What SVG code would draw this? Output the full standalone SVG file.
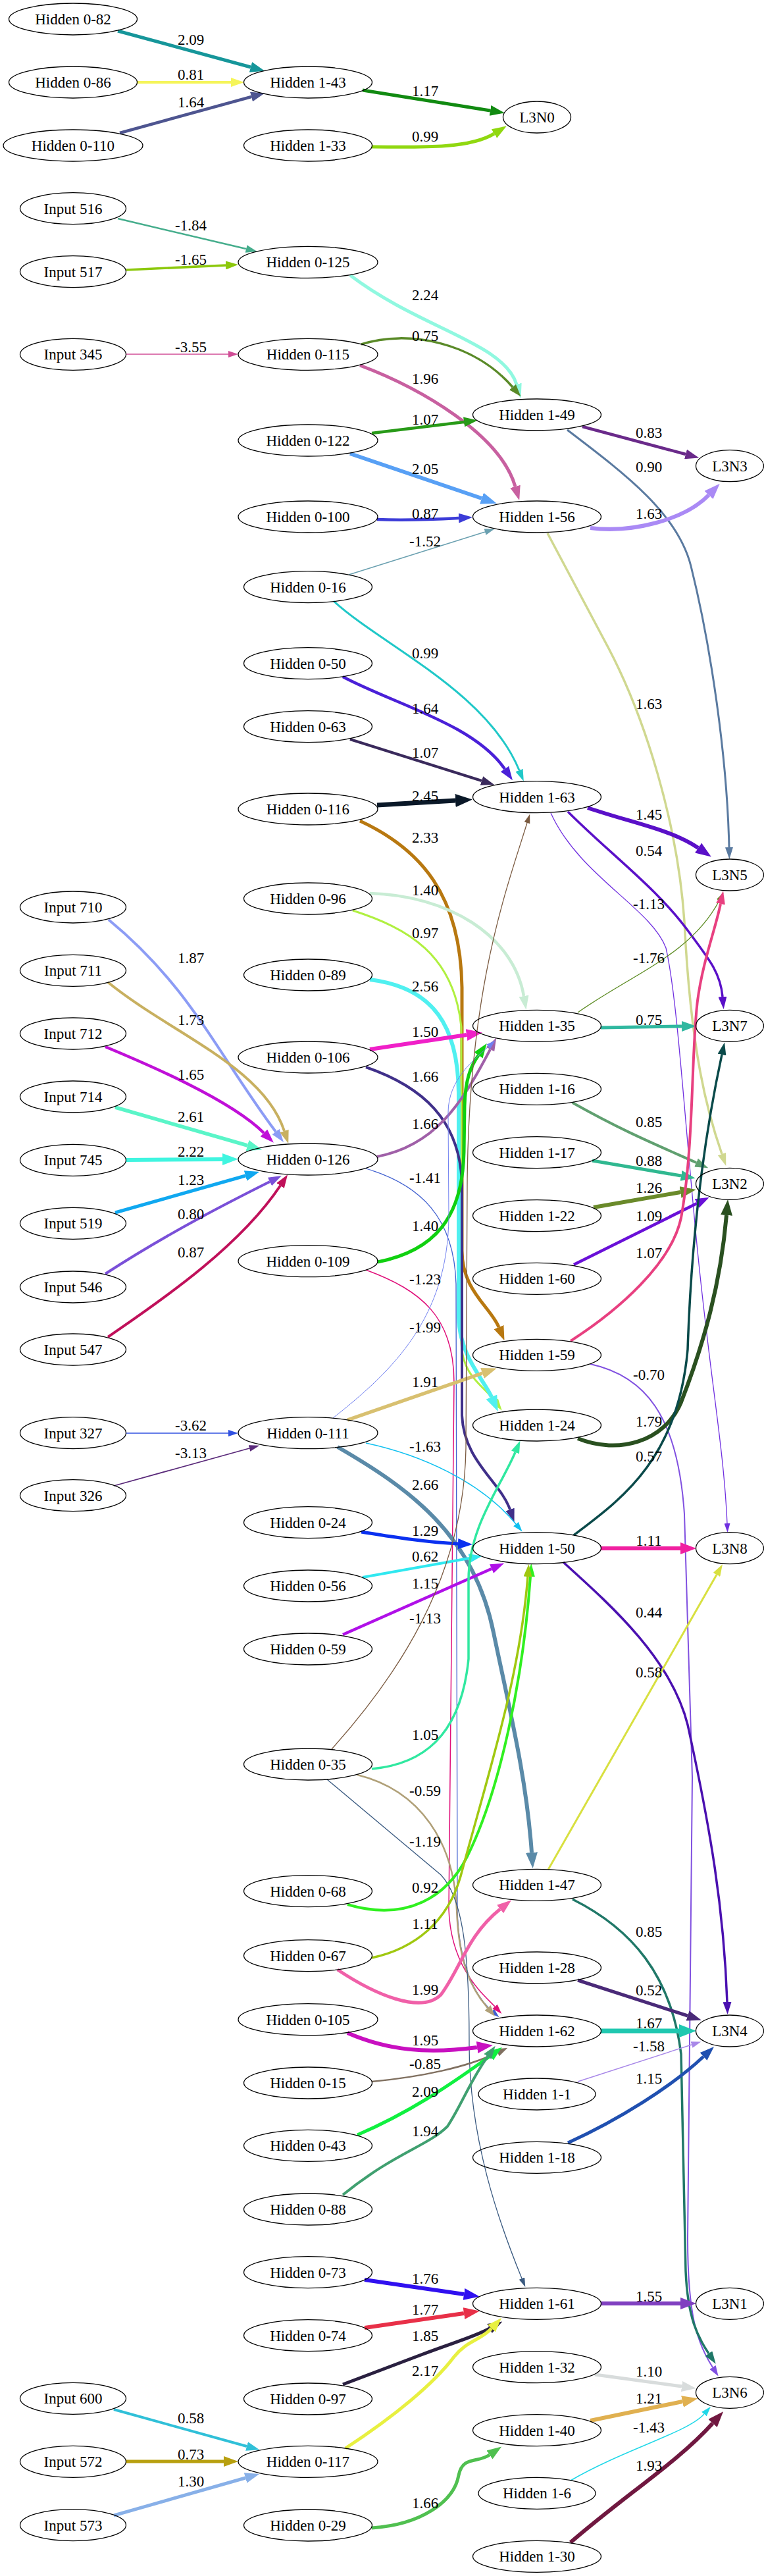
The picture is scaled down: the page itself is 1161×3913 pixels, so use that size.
<svg xmlns="http://www.w3.org/2000/svg" width="1161" height="3913" viewBox="0 0 1161 3913">
<style>
.n ellipse{fill:none;stroke:#000;stroke-width:1.3}
.n text,.lb text{font-family:"Liberation Serif","Times New Roman",serif;font-size:23px;text-anchor:middle;fill:#000}
#edges path{fill:none}
</style>
<defs>
<marker id="m1" viewBox="0 0 10 10" refX="0" refY="5" markerUnits="userSpaceOnUse" markerWidth="22" markerHeight="16" orient="auto" preserveAspectRatio="none"><path d="M0,0L10,5L0,10z" fill="#16969a"/></marker>
<marker id="m2" viewBox="0 0 10 10" refX="0" refY="5" markerUnits="userSpaceOnUse" markerWidth="20" markerHeight="14" orient="auto" preserveAspectRatio="none"><path d="M0,0L10,5L0,10z" fill="#f5f55a"/></marker>
<marker id="m3" viewBox="0 0 10 10" refX="0" refY="5" markerUnits="userSpaceOnUse" markerWidth="21" markerHeight="15" orient="auto" preserveAspectRatio="none"><path d="M0,0L10,5L0,10z" fill="#4e5590"/></marker>
<marker id="m4" viewBox="0 0 10 10" refX="0" refY="5" markerUnits="userSpaceOnUse" markerWidth="17" markerHeight="12" orient="auto" preserveAspectRatio="none"><path d="M0,0L10,5L0,10z" fill="#45ad8c"/></marker>
<marker id="m5" viewBox="0 0 10 10" refX="0" refY="5" markerUnits="userSpaceOnUse" markerWidth="19" markerHeight="13" orient="auto" preserveAspectRatio="none"><path d="M0,0L10,5L0,10z" fill="#8cc80c"/></marker>
<marker id="m6" viewBox="0 0 10 10" refX="0" refY="5" markerUnits="userSpaceOnUse" markerWidth="15" markerHeight="10" orient="auto" preserveAspectRatio="none"><path d="M0,0L10,5L0,10z" fill="#d04d96"/></marker>
<marker id="m7" viewBox="0 0 10 10" refX="0" refY="5" markerUnits="userSpaceOnUse" markerWidth="20" markerHeight="14" orient="auto" preserveAspectRatio="none"><path d="M0,0L10,5L0,10z" fill="#8c9cf5"/></marker>
<marker id="m8" viewBox="0 0 10 10" refX="0" refY="5" markerUnits="userSpaceOnUse" markerWidth="20" markerHeight="14" orient="auto" preserveAspectRatio="none"><path d="M0,0L10,5L0,10z" fill="#c8b060"/></marker>
<marker id="m9" viewBox="0 0 10 10" refX="0" refY="5" markerUnits="userSpaceOnUse" markerWidth="21" markerHeight="15" orient="auto" preserveAspectRatio="none"><path d="M0,0L10,5L0,10z" fill="#c010d8"/></marker>
<marker id="m10" viewBox="0 0 10 10" refX="0" refY="5" markerUnits="userSpaceOnUse" markerWidth="23" markerHeight="17" orient="auto" preserveAspectRatio="none"><path d="M0,0L10,5L0,10z" fill="#5af5c8"/></marker>
<marker id="m11" viewBox="0 0 10 10" refX="0" refY="5" markerUnits="userSpaceOnUse" markerWidth="24" markerHeight="18" orient="auto" preserveAspectRatio="none"><path d="M0,0L10,5L0,10z" fill="#40f5e0"/></marker>
<marker id="m12" viewBox="0 0 10 10" refX="0" refY="5" markerUnits="userSpaceOnUse" markerWidth="22" markerHeight="16" orient="auto" preserveAspectRatio="none"><path d="M0,0L10,5L0,10z" fill="#10a8f0"/></marker>
<marker id="m13" viewBox="0 0 10 10" refX="0" refY="5" markerUnits="userSpaceOnUse" markerWidth="20" markerHeight="14" orient="auto" preserveAspectRatio="none"><path d="M0,0L10,5L0,10z" fill="#7a50d8"/></marker>
<marker id="m14" viewBox="0 0 10 10" refX="0" refY="5" markerUnits="userSpaceOnUse" markerWidth="20" markerHeight="14" orient="auto" preserveAspectRatio="none"><path d="M0,0L10,5L0,10z" fill="#c0105a"/></marker>
<marker id="m15" viewBox="0 0 10 10" refX="0" refY="5" markerUnits="userSpaceOnUse" markerWidth="15" markerHeight="10" orient="auto" preserveAspectRatio="none"><path d="M0,0L10,5L0,10z" fill="#3050e0"/></marker>
<marker id="m16" viewBox="0 0 10 10" refX="0" refY="5" markerUnits="userSpaceOnUse" markerWidth="16" markerHeight="10" orient="auto" preserveAspectRatio="none"><path d="M0,0L10,5L0,10z" fill="#5a2a7a"/></marker>
<marker id="m17" viewBox="0 0 10 10" refX="0" refY="5" markerUnits="userSpaceOnUse" markerWidth="20" markerHeight="14" orient="auto" preserveAspectRatio="none"><path d="M0,0L10,5L0,10z" fill="#30c0d8"/></marker>
<marker id="m18" viewBox="0 0 10 10" refX="0" refY="5" markerUnits="userSpaceOnUse" markerWidth="22" markerHeight="16" orient="auto" preserveAspectRatio="none"><path d="M0,0L10,5L0,10z" fill="#b8a010"/></marker>
<marker id="m19" viewBox="0 0 10 10" refX="0" refY="5" markerUnits="userSpaceOnUse" markerWidth="22" markerHeight="16" orient="auto" preserveAspectRatio="none"><path d="M0,0L10,5L0,10z" fill="#88b0e8"/></marker>
<marker id="m20" viewBox="0 0 10 10" refX="0" refY="5" markerUnits="userSpaceOnUse" markerWidth="22" markerHeight="16" orient="auto" preserveAspectRatio="none"><path d="M0,0L10,5L0,10z" fill="#118a11"/></marker>
<marker id="m21" viewBox="0 0 10 10" refX="0" refY="5" markerUnits="userSpaceOnUse" markerWidth="22" markerHeight="16" orient="auto" preserveAspectRatio="none"><path d="M0,0L10,5L0,10z" fill="#90d810"/></marker>
<marker id="m22" viewBox="0 0 10 10" refX="0" refY="5" markerUnits="userSpaceOnUse" markerWidth="22" markerHeight="16" orient="auto" preserveAspectRatio="none"><path d="M0,0L10,5L0,10z" fill="#90f8e0"/></marker>
<marker id="m23" viewBox="0 0 10 10" refX="0" refY="5" markerUnits="userSpaceOnUse" markerWidth="19" markerHeight="13" orient="auto" preserveAspectRatio="none"><path d="M0,0L10,5L0,10z" fill="#5a8a28"/></marker>
<marker id="m24" viewBox="0 0 10 10" refX="0" refY="5" markerUnits="userSpaceOnUse" markerWidth="22" markerHeight="16" orient="auto" preserveAspectRatio="none"><path d="M0,0L10,5L0,10z" fill="#c860a0"/></marker>
<marker id="m25" viewBox="0 0 10 10" refX="0" refY="5" markerUnits="userSpaceOnUse" markerWidth="21" markerHeight="15" orient="auto" preserveAspectRatio="none"><path d="M0,0L10,5L0,10z" fill="#289a18"/></marker>
<marker id="m26" viewBox="0 0 10 10" refX="0" refY="5" markerUnits="userSpaceOnUse" markerWidth="24" markerHeight="18" orient="auto" preserveAspectRatio="none"><path d="M0,0L10,5L0,10z" fill="#58a0f5"/></marker>
<marker id="m27" viewBox="0 0 10 10" refX="0" refY="5" markerUnits="userSpaceOnUse" markerWidth="21" markerHeight="15" orient="auto" preserveAspectRatio="none"><path d="M0,0L10,5L0,10z" fill="#3c3cd8"/></marker>
<marker id="m28" viewBox="0 0 10 10" refX="0" refY="5" markerUnits="userSpaceOnUse" markerWidth="15" markerHeight="10" orient="auto" preserveAspectRatio="none"><path d="M0,0L10,5L0,10z" fill="#6aa0b0"/></marker>
<marker id="m29" viewBox="0 0 10 10" refX="0" refY="5" markerUnits="userSpaceOnUse" markerWidth="18" markerHeight="12" orient="auto" preserveAspectRatio="none"><path d="M0,0L10,5L0,10z" fill="#20c8c8"/></marker>
<marker id="m30" viewBox="0 0 10 10" refX="0" refY="5" markerUnits="userSpaceOnUse" markerWidth="21" markerHeight="15" orient="auto" preserveAspectRatio="none"><path d="M0,0L10,5L0,10z" fill="#4a20d8"/></marker>
<marker id="m31" viewBox="0 0 10 10" refX="0" refY="5" markerUnits="userSpaceOnUse" markerWidth="20" markerHeight="14" orient="auto" preserveAspectRatio="none"><path d="M0,0L10,5L0,10z" fill="#3a2a5c"/></marker>
<marker id="m32" viewBox="0 0 10 10" refX="0" refY="5" markerUnits="userSpaceOnUse" markerWidth="26" markerHeight="20" orient="auto" preserveAspectRatio="none"><path d="M0,0L10,5L0,10z" fill="#0a1828"/></marker>
<marker id="m33" viewBox="0 0 10 10" refX="0" refY="5" markerUnits="userSpaceOnUse" markerWidth="22" markerHeight="16" orient="auto" preserveAspectRatio="none"><path d="M0,0L10,5L0,10z" fill="#b87810"/></marker>
<marker id="m34" viewBox="0 0 10 10" refX="0" refY="5" markerUnits="userSpaceOnUse" markerWidth="21" markerHeight="15" orient="auto" preserveAspectRatio="none"><path d="M0,0L10,5L0,10z" fill="#c8ecd4"/></marker>
<marker id="m35" viewBox="0 0 10 10" refX="0" refY="5" markerUnits="userSpaceOnUse" markerWidth="18" markerHeight="12" orient="auto" preserveAspectRatio="none"><path d="M0,0L10,5L0,10z" fill="#b0f040"/></marker>
<marker id="m36" viewBox="0 0 10 10" refX="0" refY="5" markerUnits="userSpaceOnUse" markerWidth="24" markerHeight="18" orient="auto" preserveAspectRatio="none"><path d="M0,0L10,5L0,10z" fill="#50f0f0"/></marker>
<marker id="m37" viewBox="0 0 10 10" refX="0" refY="5" markerUnits="userSpaceOnUse" markerWidth="24" markerHeight="18" orient="auto" preserveAspectRatio="none"><path d="M0,0L10,5L0,10z" fill="#f020c8"/></marker>
<marker id="m38" viewBox="0 0 10 10" refX="0" refY="5" markerUnits="userSpaceOnUse" markerWidth="20" markerHeight="14" orient="auto" preserveAspectRatio="none"><path d="M0,0L10,5L0,10z" fill="#40308a"/></marker>
<marker id="m39" viewBox="0 0 10 10" refX="0" refY="5" markerUnits="userSpaceOnUse" markerWidth="20" markerHeight="14" orient="auto" preserveAspectRatio="none"><path d="M0,0L10,5L0,10z" fill="#a060a8"/></marker>
<marker id="m40" viewBox="0 0 10 10" refX="0" refY="5" markerUnits="userSpaceOnUse" markerWidth="14" markerHeight="9" orient="auto" preserveAspectRatio="none"><path d="M0,0L10,5L0,10z" fill="#4060d0"/></marker>
<marker id="m41" viewBox="0 0 10 10" refX="0" refY="5" markerUnits="userSpaceOnUse" markerWidth="22" markerHeight="16" orient="auto" preserveAspectRatio="none"><path d="M0,0L10,5L0,10z" fill="#10d010"/></marker>
<marker id="m42" viewBox="0 0 10 10" refX="0" refY="5" markerUnits="userSpaceOnUse" markerWidth="15" markerHeight="10" orient="auto" preserveAspectRatio="none"><path d="M0,0L10,5L0,10z" fill="#e0107a"/></marker>
<marker id="m43" viewBox="0 0 10 10" refX="0" refY="5" markerUnits="userSpaceOnUse" markerWidth="14" markerHeight="9" orient="auto" preserveAspectRatio="none"><path d="M0,0L10,5L0,10z" fill="#7080f0"/></marker>
<marker id="m44" viewBox="0 0 10 10" refX="0" refY="5" markerUnits="userSpaceOnUse" markerWidth="23" markerHeight="17" orient="auto" preserveAspectRatio="none"><path d="M0,0L10,5L0,10z" fill="#d8c070"/></marker>
<marker id="m45" viewBox="0 0 10 10" refX="0" refY="5" markerUnits="userSpaceOnUse" markerWidth="15" markerHeight="10" orient="auto" preserveAspectRatio="none"><path d="M0,0L10,5L0,10z" fill="#10c0f0"/></marker>
<marker id="m46" viewBox="0 0 10 10" refX="0" refY="5" markerUnits="userSpaceOnUse" markerWidth="24" markerHeight="18" orient="auto" preserveAspectRatio="none"><path d="M0,0L10,5L0,10z" fill="#5a8aa8"/></marker>
<marker id="m47" viewBox="0 0 10 10" refX="0" refY="5" markerUnits="userSpaceOnUse" markerWidth="22" markerHeight="16" orient="auto" preserveAspectRatio="none"><path d="M0,0L10,5L0,10z" fill="#0a30f0"/></marker>
<marker id="m48" viewBox="0 0 10 10" refX="0" refY="5" markerUnits="userSpaceOnUse" markerWidth="20" markerHeight="14" orient="auto" preserveAspectRatio="none"><path d="M0,0L10,5L0,10z" fill="#30e8f0"/></marker>
<marker id="m49" viewBox="0 0 10 10" refX="0" refY="5" markerUnits="userSpaceOnUse" markerWidth="21" markerHeight="15" orient="auto" preserveAspectRatio="none"><path d="M0,0L10,5L0,10z" fill="#b010e8"/></marker>
<marker id="m50" viewBox="0 0 10 10" refX="0" refY="5" markerUnits="userSpaceOnUse" markerWidth="14" markerHeight="9" orient="auto" preserveAspectRatio="none"><path d="M0,0L10,5L0,10z" fill="#7a5a40"/></marker>
<marker id="m51" viewBox="0 0 10 10" refX="0" refY="5" markerUnits="userSpaceOnUse" markerWidth="19" markerHeight="13" orient="auto" preserveAspectRatio="none"><path d="M0,0L10,5L0,10z" fill="#30e8a0"/></marker>
<marker id="m52" viewBox="0 0 10 10" refX="0" refY="5" markerUnits="userSpaceOnUse" markerWidth="17" markerHeight="12" orient="auto" preserveAspectRatio="none"><path d="M0,0L10,5L0,10z" fill="#b0a078"/></marker>
<marker id="m53" viewBox="0 0 10 10" refX="0" refY="5" markerUnits="userSpaceOnUse" markerWidth="14" markerHeight="9" orient="auto" preserveAspectRatio="none"><path d="M0,0L10,5L0,10z" fill="#3a5a80"/></marker>
<marker id="m54" viewBox="0 0 10 10" refX="0" refY="5" markerUnits="userSpaceOnUse" markerWidth="20" markerHeight="14" orient="auto" preserveAspectRatio="none"><path d="M0,0L10,5L0,10z" fill="#30f020"/></marker>
<marker id="m55" viewBox="0 0 10 10" refX="0" refY="5" markerUnits="userSpaceOnUse" markerWidth="19" markerHeight="13" orient="auto" preserveAspectRatio="none"><path d="M0,0L10,5L0,10z" fill="#a0c810"/></marker>
<marker id="m56" viewBox="0 0 10 10" refX="0" refY="5" markerUnits="userSpaceOnUse" markerWidth="22" markerHeight="16" orient="auto" preserveAspectRatio="none"><path d="M0,0L10,5L0,10z" fill="#f060a8"/></marker>
<marker id="m57" viewBox="0 0 10 10" refX="0" refY="5" markerUnits="userSpaceOnUse" markerWidth="24" markerHeight="18" orient="auto" preserveAspectRatio="none"><path d="M0,0L10,5L0,10z" fill="#c810c0"/></marker>
<marker id="m58" viewBox="0 0 10 10" refX="0" refY="5" markerUnits="userSpaceOnUse" markerWidth="17" markerHeight="12" orient="auto" preserveAspectRatio="none"><path d="M0,0L10,5L0,10z" fill="#807060"/></marker>
<marker id="m59" viewBox="0 0 10 10" refX="0" refY="5" markerUnits="userSpaceOnUse" markerWidth="22" markerHeight="16" orient="auto" preserveAspectRatio="none"><path d="M0,0L10,5L0,10z" fill="#10f040"/></marker>
<marker id="m60" viewBox="0 0 10 10" refX="0" refY="5" markerUnits="userSpaceOnUse" markerWidth="20" markerHeight="14" orient="auto" preserveAspectRatio="none"><path d="M0,0L10,5L0,10z" fill="#40a070"/></marker>
<marker id="m61" viewBox="0 0 10 10" refX="0" refY="5" markerUnits="userSpaceOnUse" markerWidth="24" markerHeight="18" orient="auto" preserveAspectRatio="none"><path d="M0,0L10,5L0,10z" fill="#3010f0"/></marker>
<marker id="m62" viewBox="0 0 10 10" refX="0" refY="5" markerUnits="userSpaceOnUse" markerWidth="24" markerHeight="18" orient="auto" preserveAspectRatio="none"><path d="M0,0L10,5L0,10z" fill="#e83048"/></marker>
<marker id="m63" viewBox="0 0 10 10" refX="0" refY="5" markerUnits="userSpaceOnUse" markerWidth="22" markerHeight="16" orient="auto" preserveAspectRatio="none"><path d="M0,0L10,5L0,10z" fill="#2a2040"/></marker>
<marker id="m64" viewBox="0 0 10 10" refX="0" refY="5" markerUnits="userSpaceOnUse" markerWidth="22" markerHeight="16" orient="auto" preserveAspectRatio="none"><path d="M0,0L10,5L0,10z" fill="#e8f040"/></marker>
<marker id="m65" viewBox="0 0 10 10" refX="0" refY="5" markerUnits="userSpaceOnUse" markerWidth="22" markerHeight="16" orient="auto" preserveAspectRatio="none"><path d="M0,0L10,5L0,10z" fill="#50c050"/></marker>
<marker id="m66" viewBox="0 0 10 10" refX="0" refY="5" markerUnits="userSpaceOnUse" markerWidth="21" markerHeight="15" orient="auto" preserveAspectRatio="none"><path d="M0,0L10,5L0,10z" fill="#6a2a8a"/></marker>
<marker id="m67" viewBox="0 0 10 10" refX="0" refY="5" markerUnits="userSpaceOnUse" markerWidth="18" markerHeight="12" orient="auto" preserveAspectRatio="none"><path d="M0,0L10,5L0,10z" fill="#5a7aa0"/></marker>
<marker id="m68" viewBox="0 0 10 10" refX="0" refY="5" markerUnits="userSpaceOnUse" markerWidth="24" markerHeight="18" orient="auto" preserveAspectRatio="none"><path d="M0,0L10,5L0,10z" fill="#aa8af5"/></marker>
<marker id="m69" viewBox="0 0 10 10" refX="0" refY="5" markerUnits="userSpaceOnUse" markerWidth="19" markerHeight="13" orient="auto" preserveAspectRatio="none"><path d="M0,0L10,5L0,10z" fill="#d0d890"/></marker>
<marker id="m70" viewBox="0 0 10 10" refX="0" refY="5" markerUnits="userSpaceOnUse" markerWidth="24" markerHeight="18" orient="auto" preserveAspectRatio="none"><path d="M0,0L10,5L0,10z" fill="#5a10c8"/></marker>
<marker id="m71" viewBox="0 0 10 10" refX="0" refY="5" markerUnits="userSpaceOnUse" markerWidth="19" markerHeight="13" orient="auto" preserveAspectRatio="none"><path d="M0,0L10,5L0,10z" fill="#5a10c8"/></marker>
<marker id="m72" viewBox="0 0 10 10" refX="0" refY="5" markerUnits="userSpaceOnUse" markerWidth="14" markerHeight="9" orient="auto" preserveAspectRatio="none"><path d="M0,0L10,5L0,10z" fill="#7030e0"/></marker>
<marker id="m73" viewBox="0 0 10 10" refX="0" refY="5" markerUnits="userSpaceOnUse" markerWidth="14" markerHeight="9" orient="auto" preserveAspectRatio="none"><path d="M0,0L10,5L0,10z" fill="#5a8a20"/></marker>
<marker id="m74" viewBox="0 0 10 10" refX="0" refY="5" markerUnits="userSpaceOnUse" markerWidth="22" markerHeight="16" orient="auto" preserveAspectRatio="none"><path d="M0,0L10,5L0,10z" fill="#30b8a0"/></marker>
<marker id="m75" viewBox="0 0 10 10" refX="0" refY="5" markerUnits="userSpaceOnUse" markerWidth="20" markerHeight="14" orient="auto" preserveAspectRatio="none"><path d="M0,0L10,5L0,10z" fill="#60a070"/></marker>
<marker id="m76" viewBox="0 0 10 10" refX="0" refY="5" markerUnits="userSpaceOnUse" markerWidth="22" markerHeight="16" orient="auto" preserveAspectRatio="none"><path d="M0,0L10,5L0,10z" fill="#30b890"/></marker>
<marker id="m77" viewBox="0 0 10 10" refX="0" refY="5" markerUnits="userSpaceOnUse" markerWidth="24" markerHeight="18" orient="auto" preserveAspectRatio="none"><path d="M0,0L10,5L0,10z" fill="#6a8a2a"/></marker>
<marker id="m78" viewBox="0 0 10 10" refX="0" refY="5" markerUnits="userSpaceOnUse" markerWidth="21" markerHeight="15" orient="auto" preserveAspectRatio="none"><path d="M0,0L10,5L0,10z" fill="#6a10d8"/></marker>
<marker id="m79" viewBox="0 0 10 10" refX="0" refY="5" markerUnits="userSpaceOnUse" markerWidth="20" markerHeight="14" orient="auto" preserveAspectRatio="none"><path d="M0,0L10,5L0,10z" fill="#e84080"/></marker>
<marker id="m80" viewBox="0 0 10 10" refX="0" refY="5" markerUnits="userSpaceOnUse" markerWidth="16" markerHeight="11" orient="auto" preserveAspectRatio="none"><path d="M0,0L10,5L0,10z" fill="#8050e0"/></marker>
<marker id="m81" viewBox="0 0 10 10" refX="0" refY="5" markerUnits="userSpaceOnUse" markerWidth="24" markerHeight="18" orient="auto" preserveAspectRatio="none"><path d="M0,0L10,5L0,10z" fill="#2a5020"/></marker>
<marker id="m82" viewBox="0 0 10 10" refX="0" refY="5" markerUnits="userSpaceOnUse" markerWidth="19" markerHeight="13" orient="auto" preserveAspectRatio="none"><path d="M0,0L10,5L0,10z" fill="#0a4a4a"/></marker>
<marker id="m83" viewBox="0 0 10 10" refX="0" refY="5" markerUnits="userSpaceOnUse" markerWidth="24" markerHeight="18" orient="auto" preserveAspectRatio="none"><path d="M0,0L10,5L0,10z" fill="#f020a0"/></marker>
<marker id="m84" viewBox="0 0 10 10" refX="0" refY="5" markerUnits="userSpaceOnUse" markerWidth="19" markerHeight="13" orient="auto" preserveAspectRatio="none"><path d="M0,0L10,5L0,10z" fill="#4a10b0"/></marker>
<marker id="m85" viewBox="0 0 10 10" refX="0" refY="5" markerUnits="userSpaceOnUse" markerWidth="18" markerHeight="12" orient="auto" preserveAspectRatio="none"><path d="M0,0L10,5L0,10z" fill="#d8e040"/></marker>
<marker id="m86" viewBox="0 0 10 10" refX="0" refY="5" markerUnits="userSpaceOnUse" markerWidth="19" markerHeight="13" orient="auto" preserveAspectRatio="none"><path d="M0,0L10,5L0,10z" fill="#207868"/></marker>
<marker id="m87" viewBox="0 0 10 10" refX="0" refY="5" markerUnits="userSpaceOnUse" markerWidth="22" markerHeight="16" orient="auto" preserveAspectRatio="none"><path d="M0,0L10,5L0,10z" fill="#4a2a78"/></marker>
<marker id="m88" viewBox="0 0 10 10" refX="0" refY="5" markerUnits="userSpaceOnUse" markerWidth="26" markerHeight="20" orient="auto" preserveAspectRatio="none"><path d="M0,0L10,5L0,10z" fill="#20c8b0"/></marker>
<marker id="m89" viewBox="0 0 10 10" refX="0" refY="5" markerUnits="userSpaceOnUse" markerWidth="15" markerHeight="10" orient="auto" preserveAspectRatio="none"><path d="M0,0L10,5L0,10z" fill="#a888e8"/></marker>
<marker id="m90" viewBox="0 0 10 10" refX="0" refY="5" markerUnits="userSpaceOnUse" markerWidth="22" markerHeight="16" orient="auto" preserveAspectRatio="none"><path d="M0,0L10,5L0,10z" fill="#2050b0"/></marker>
<marker id="m91" viewBox="0 0 10 10" refX="0" refY="5" markerUnits="userSpaceOnUse" markerWidth="24" markerHeight="18" orient="auto" preserveAspectRatio="none"><path d="M0,0L10,5L0,10z" fill="#8040c0"/></marker>
<marker id="m92" viewBox="0 0 10 10" refX="0" refY="5" markerUnits="userSpaceOnUse" markerWidth="22" markerHeight="16" orient="auto" preserveAspectRatio="none"><path d="M0,0L10,5L0,10z" fill="#d8dcdc"/></marker>
<marker id="m93" viewBox="0 0 10 10" refX="0" refY="5" markerUnits="userSpaceOnUse" markerWidth="24" markerHeight="18" orient="auto" preserveAspectRatio="none"><path d="M0,0L10,5L0,10z" fill="#e0b050"/></marker>
<marker id="m94" viewBox="0 0 10 10" refX="0" refY="5" markerUnits="userSpaceOnUse" markerWidth="15" markerHeight="10" orient="auto" preserveAspectRatio="none"><path d="M0,0L10,5L0,10z" fill="#20d8e8"/></marker>
<marker id="m95" viewBox="0 0 10 10" refX="0" refY="5" markerUnits="userSpaceOnUse" markerWidth="24" markerHeight="18" orient="auto" preserveAspectRatio="none"><path d="M0,0L10,5L0,10z" fill="#701840"/></marker>
</defs>
<rect width="1161" height="3913" fill="#fff"/>
<g id="edges">
<path d="M179,47 L381,102" stroke="#16969a" stroke-width="5" marker-end="url(#m1)"/>
<path d="M208,125 L351,125" stroke="#f5f55a" stroke-width="4" marker-end="url(#m2)"/>
<path d="M182,202 L382,147" stroke="#4e5590" stroke-width="4.5" marker-end="url(#m3)"/>
<path d="M179,332 L374,378" stroke="#45ad8c" stroke-width="2.5" marker-end="url(#m4)"/>
<path d="M192,410 L343,403" stroke="#8cc80c" stroke-width="3.5" marker-end="url(#m5)"/>
<path d="M191,538 L347,538" stroke="#d04d96" stroke-width="1.4" marker-end="url(#m6)"/>
<path d="M165,1397 C290,1500 330,1600 419,1719" stroke="#8c9cf5" stroke-width="4" marker-end="url(#m7)"/>
<path d="M164,1492 C260,1570 400,1620 432,1718" stroke="#c8b060" stroke-width="4" marker-end="url(#m8)"/>
<path d="M160,1590 C220,1615 350,1670 401,1721" stroke="#c010d8" stroke-width="4.5" marker-end="url(#m9)"/>
<path d="M175,1682 L376,1740" stroke="#5af5c8" stroke-width="5.5" marker-end="url(#m10)"/>
<path d="M191,1762 L338,1761" stroke="#40f5e0" stroke-width="6" marker-end="url(#m11)"/>
<path d="M175,1842 L373,1786" stroke="#10a8f0" stroke-width="5" marker-end="url(#m12)"/>
<path d="M160,1935 C260,1870 360,1820 410,1795" stroke="#7a50d8" stroke-width="4" marker-end="url(#m13)"/>
<path d="M164,2031 C230,1985 360,1900 426,1801" stroke="#c0105a" stroke-width="4" marker-end="url(#m14)"/>
<path d="M191,2177 L347,2177" stroke="#3050e0" stroke-width="1.4" marker-end="url(#m15)"/>
<path d="M173,2257 L379,2200" stroke="#5a2a7a" stroke-width="1.8" marker-end="url(#m16)"/>
<path d="M173,3660 L375,3716" stroke="#30c0d8" stroke-width="4" marker-end="url(#m17)"/>
<path d="M191,3739 L340,3739" stroke="#b8a010" stroke-width="5" marker-end="url(#m18)"/>
<path d="M173,3821 L373,3764" stroke="#88b0e8" stroke-width="5" marker-end="url(#m19)"/>
<path d="M551,137 L745,168" stroke="#118a11" stroke-width="5" marker-end="url(#m20)"/>
<path d="M565,223 C650,224 715,225 751,203" stroke="#90d810" stroke-width="5" marker-end="url(#m21)"/>
<path d="M532,418 C640,500 765,520 785,584" stroke="#90f8e0" stroke-width="5" marker-end="url(#m22)"/>
<path d="M549,523 C620,500 720,520 779,588" stroke="#5a8a28" stroke-width="3.5" marker-end="url(#m23)"/>
<path d="M547,555 C640,590 760,660 783,739" stroke="#c860a0" stroke-width="5" marker-end="url(#m24)"/>
<path d="M565,658 L705,641" stroke="#289a18" stroke-width="4.5" marker-end="url(#m25)"/>
<path d="M532,689 L732,757" stroke="#58a0f5" stroke-width="6" marker-end="url(#m26)"/>
<path d="M573,789 C620,791 660,789 697,787" stroke="#3c3cd8" stroke-width="4.5" marker-end="url(#m27)"/>
<path d="M530,873 L737,808" stroke="#6aa0b0" stroke-width="1.5" marker-end="url(#m28)"/>
<path d="M507,913 C580,980 740,1050 789,1170" stroke="#20c8c8" stroke-width="3" marker-end="url(#m29)"/>
<path d="M521,1028 C600,1070 720,1100 767,1168" stroke="#4a20d8" stroke-width="4.5" marker-end="url(#m30)"/>
<path d="M532,1123 L732,1186" stroke="#3a2a5c" stroke-width="4" marker-end="url(#m31)"/>
<path d="M573,1223 L692,1216" stroke="#0a1828" stroke-width="7" marker-end="url(#m32)"/>
<path d="M547,1247 C640,1290 700,1360 702,1500 L702,1900 C702,1960 745,1985 758,2016" stroke="#b87810" stroke-width="5" marker-end="url(#m33)"/>
<path d="M562,1357 C680,1360 780,1420 796,1513" stroke="#c8ecd4" stroke-width="4.5" marker-end="url(#m34)"/>
<path d="M536,1383 C620,1410 690,1450 701,1560 L701,2040 C702,2090 735,2105 752,2128" stroke="#b0f040" stroke-width="3" marker-end="url(#m35)"/>
<path d="M562,1488 C660,1500 696,1560 697,1660 L697,2000 C698,2060 735,2095 747,2122" stroke="#50f0f0" stroke-width="6" marker-end="url(#m36)"/>
<path d="M562,1594 L709,1572" stroke="#f020c8" stroke-width="6" marker-end="url(#m37)"/>
<path d="M556,1621 C640,1650 700,1700 702,1800 L702,2150 C705,2220 760,2250 775,2293" stroke="#40308a" stroke-width="4" marker-end="url(#m38)"/>
<path d="M573,1757 C660,1740 700,1680 745,1594" stroke="#a060a8" stroke-width="4" marker-end="url(#m39)"/>
<path d="M556,1775 C640,1800 690,1850 693,1950 L695,2900 C697,2990 725,3035 748,3055" stroke="#4060d0" stroke-width="1.3" marker-end="url(#m40)"/>
<path d="M574,1917 C660,1900 703,1850 705,1750 L706,1680 C707,1640 715,1620 727,1603" stroke="#10d010" stroke-width="5" marker-end="url(#m41)"/>
<path d="M556,1929 C640,1960 690,2000 690,2100 L682,2900 C685,2990 735,3030 752,3048" stroke="#e0107a" stroke-width="1.5" marker-end="url(#m42)"/>
<path d="M506,2154 C600,2080 680,2000 682,1850 L681,1690 C681,1640 720,1610 742,1590" stroke="#7080f0" stroke-width="1" marker-end="url(#m43)"/>
<path d="M528,2157 L733,2086" stroke="#d8c070" stroke-width="5.5" marker-end="url(#m44)"/>
<path d="M556,2192 C640,2210 730,2250 784,2315" stroke="#10c0f0" stroke-width="1.5" marker-end="url(#m45)"/>
<path d="M513,2198 C620,2260 720,2330 750,2480 C775,2600 800,2700 808,2814" stroke="#5a8aa8" stroke-width="6" marker-end="url(#m46)"/>
<path d="M549,2327 C600,2335 650,2343 696,2345" stroke="#0a30f0" stroke-width="5" marker-end="url(#m47)"/>
<path d="M551,2396 L713,2367" stroke="#30e8f0" stroke-width="4" marker-end="url(#m48)"/>
<path d="M521,2483 L747,2383" stroke="#b010e8" stroke-width="4.5" marker-end="url(#m49)"/>
<path d="M504,2657 C600,2550 705,2400 708,2200 L710,1800 C712,1500 770,1350 801,1250" stroke="#7a5a40" stroke-width="1.3" marker-end="url(#m50)"/>
<path d="M565,2687 C640,2680 700,2640 712,2520 L712,2400 C712,2320 760,2260 783,2206" stroke="#30e8a0" stroke-width="3.5" marker-end="url(#m51)"/>
<path d="M543,2696 C640,2720 690,2800 694,2900 C697,2980 715,3020 741,3050" stroke="#b0a078" stroke-width="2.5" marker-end="url(#m52)"/>
<path d="M497,2703 L670,2848 C700,2880 713,2950 713,3100 C712,3250 760,3380 793,3461" stroke="#3a5a80" stroke-width="1.3" marker-end="url(#m53)"/>
<path d="M528,2893 C620,2920 680,2880 710,2820 C760,2720 795,2550 806,2395" stroke="#30f020" stroke-width="4" marker-end="url(#m54)"/>
<path d="M565,2974 C630,2960 680,2920 700,2850 C740,2700 790,2550 802,2395" stroke="#a0c810" stroke-width="3.5" marker-end="url(#m55)"/>
<path d="M513,2992 C570,3030 640,3060 670,3030 C700,2990 710,2940 760,2900" stroke="#f060a8" stroke-width="5" marker-end="url(#m56)"/>
<path d="M528,3088 C590,3115 650,3120 725,3110" stroke="#c810c0" stroke-width="6" marker-end="url(#m57)"/>
<path d="M565,3162 C640,3155 710,3140 756,3118" stroke="#807060" stroke-width="2.5" marker-end="url(#m58)"/>
<path d="M543,3243 C620,3210 680,3170 745,3123" stroke="#10f040" stroke-width="5" marker-end="url(#m59)"/>
<path d="M521,3334 C600,3270 650,3260 680,3230 C700,3200 715,3160 741,3124" stroke="#40a070" stroke-width="4" marker-end="url(#m60)"/>
<path d="M554,3463 L705,3485" stroke="#3010f0" stroke-width="6" marker-end="url(#m61)"/>
<path d="M554,3536 L705,3514" stroke="#e83048" stroke-width="6" marker-end="url(#m62)"/>
<path d="M521,3622 L640,3577 C690,3558 720,3550 744,3537" stroke="#2a2040" stroke-width="5" marker-end="url(#m63)"/>
<path d="M525,3719 C600,3670 660,3620 690,3580 C710,3555 730,3555 747,3537" stroke="#e8f040" stroke-width="5" marker-end="url(#m64)"/>
<path d="M565,3840 C640,3835 690,3800 697,3760 C703,3730 725,3742 744,3729" stroke="#50c050" stroke-width="5" marker-end="url(#m65)"/>
<path d="M885,648 L1042,690" stroke="#6a2a8a" stroke-width="4.5" marker-end="url(#m66)"/>
<path d="M862,653 C950,720 1030,780 1050,860 C1080,980 1105,1150 1108,1287" stroke="#5a7aa0" stroke-width="3" marker-end="url(#m67)"/>
<path d="M897,802 C960,810 1040,790 1077,752" stroke="#aa8af5" stroke-width="6" marker-end="url(#m68)"/>
<path d="M832,810 L925,985 C980,1090 1030,1250 1040,1400 C1050,1600 1075,1690 1097,1753" stroke="#d0d890" stroke-width="3.5" marker-end="url(#m69)"/>
<path d="M893,1227 C960,1250 1020,1260 1061,1288" stroke="#5a10c8" stroke-width="6" marker-end="url(#m70)"/>
<path d="M863,1233 C930,1300 1000,1350 1050,1420 C1080,1460 1095,1480 1098,1514" stroke="#5a10c8" stroke-width="3.5" marker-end="url(#m71)"/>
<path d="M837,1235 C880,1330 990,1380 1012,1440 C1030,1520 1040,1700 1060,1900 C1080,2100 1100,2200 1105,2314" stroke="#7030e0" stroke-width="1.3" marker-end="url(#m72)"/>
<path d="M878,1538 C960,1480 1050,1450 1093,1368" stroke="#5a8a20" stroke-width="1.3" marker-end="url(#m73)"/>
<path d="M913,1561 L1036,1559" stroke="#30b8a0" stroke-width="5" marker-end="url(#m74)"/>
<path d="M870,1675 C950,1720 1000,1740 1058,1766" stroke="#60a070" stroke-width="4" marker-end="url(#m75)"/>
<path d="M900,1763 L1035,1786" stroke="#30b890" stroke-width="5" marker-end="url(#m76)"/>
<path d="M902,1834 L1034,1811" stroke="#6a8a2a" stroke-width="6" marker-end="url(#m77)"/>
<path d="M872,1921 L1059,1828" stroke="#6a10d8" stroke-width="4.5" marker-end="url(#m78)"/>
<path d="M867,2037 C940,1990 1020,1920 1035,1850 C1055,1740 1050,1600 1060,1520 C1068,1460 1087,1412 1095,1373" stroke="#e84080" stroke-width="4" marker-end="url(#m79)"/>
<path d="M897,2072 C980,2090 1030,2150 1040,2300 L1052,2700 L1045,3400 C1045,3520 1060,3560 1083,3596" stroke="#8050e0" stroke-width="2" marker-end="url(#m80)"/>
<path d="M878,2185 C940,2210 1010,2190 1035,2130 C1070,2040 1095,1950 1104,1846" stroke="#2a5020" stroke-width="6" marker-end="url(#m81)"/>
<path d="M872,2332 C940,2280 1030,2220 1045,2050 C1050,1900 1065,1750 1097,1602" stroke="#0a4a4a" stroke-width="3.5" marker-end="url(#m82)"/>
<path d="M913,2352 L1034,2352" stroke="#f020a0" stroke-width="6" marker-end="url(#m83)"/>
<path d="M856,2373 C930,2440 1020,2520 1045,2620 C1080,2780 1100,2900 1105,3041" stroke="#4a10b0" stroke-width="3.5" marker-end="url(#m84)"/>
<path d="M833,2840 L1089,2392" stroke="#d8e040" stroke-width="3" marker-end="url(#m85)"/>
<path d="M870,2885 C960,2930 1020,3000 1035,3120 L1042,3450 C1045,3520 1060,3550 1077,3575" stroke="#207868" stroke-width="3.5" marker-end="url(#m86)"/>
<path d="M878,3008 L1045,3062" stroke="#4a2a78" stroke-width="5" marker-end="url(#m87)"/>
<path d="M913,3085 L1032,3085" stroke="#20c8b0" stroke-width="7" marker-end="url(#m88)"/>
<path d="M878,3162 L1051,3106" stroke="#a888e8" stroke-width="1.5" marker-end="url(#m89)"/>
<path d="M863,3255 C940,3220 1020,3170 1069,3124" stroke="#2050b0" stroke-width="5" marker-end="url(#m90)"/>
<path d="M913,3499 L1034,3499" stroke="#8040c0" stroke-width="6" marker-end="url(#m91)"/>
<path d="M904,3607 L1036,3625" stroke="#d8dcdc" stroke-width="5" marker-end="url(#m92)"/>
<path d="M897,3677 L1037,3648" stroke="#e0b050" stroke-width="6" marker-end="url(#m93)"/>
<path d="M867,3768 C950,3720 1045,3695 1070,3667" stroke="#20d8e8" stroke-width="1.5" marker-end="url(#m94)"/>
<path d="M867,3862 C950,3790 1030,3740 1083,3681" stroke="#701840" stroke-width="6" marker-end="url(#m95)"/>
</g>
<g class="lb" id="edge-labels">
<text x="290" y="68">2.09</text><text x="290" y="121">0.81</text><text x="290" y="163">1.64</text>
<text x="646" y="146">1.17</text><text x="646" y="215">0.99</text>
<text x="290" y="350">-1.84</text><text x="290" y="402">-1.65</text><text x="290" y="535">-3.55</text>
<text x="646" y="456">2.24</text><text x="646" y="518">0.75</text><text x="646" y="583">1.96</text><text x="646" y="645">1.07</text>
<text x="646" y="720">2.05</text><text x="646" y="788">0.87</text><text x="646" y="830">-1.52</text><text x="646" y="1000">0.99</text>
<text x="646" y="1084">1.64</text><text x="646" y="1151">1.07</text><text x="646" y="1217">2.45</text><text x="646" y="1280">2.33</text>
<text x="646" y="1360">1.40</text><text x="646" y="1425">0.97</text><text x="646" y="1506">2.56</text><text x="646" y="1575">1.50</text>
<text x="646" y="1643">1.66</text><text x="646" y="1715">1.66</text><text x="646" y="1797">-1.41</text><text x="646" y="1870">1.40</text>
<text x="646" y="1951">-1.23</text><text x="646" y="2024">-1.99</text><text x="646" y="2107">1.91</text><text x="646" y="2205">-1.63</text>
<text x="646" y="2263">2.66</text><text x="646" y="2333">1.29</text><text x="646" y="2372">0.62</text><text x="646" y="2413">1.15</text>
<text x="646" y="2466">-1.13</text><text x="646" y="2643">1.05</text><text x="646" y="2728">-0.59</text><text x="646" y="2805">-1.19</text>
<text x="646" y="2875">0.92</text><text x="646" y="2930">1.11</text><text x="646" y="3030">1.99</text><text x="646" y="3107">1.95</text>
<text x="646" y="3143">-0.85</text><text x="646" y="3185">2.09</text><text x="646" y="3245">1.94</text><text x="646" y="3469">1.76</text>
<text x="646" y="3516">1.77</text><text x="646" y="3556">1.85</text><text x="646" y="3609">2.17</text><text x="646" y="3810">1.66</text>
<text x="290" y="1463">1.87</text><text x="290" y="1557">1.73</text><text x="290" y="1640">1.65</text><text x="290" y="1704">2.61</text>
<text x="290" y="1757">2.22</text><text x="290" y="1800">1.23</text><text x="290" y="1852">0.80</text><text x="290" y="1910">0.87</text>
<text x="290" y="2173">-3.62</text><text x="290" y="2215">-3.13</text><text x="290" y="3681">0.58</text><text x="290" y="3736">0.73</text><text x="290" y="3777">1.30</text>
<text x="986" y="665">0.83</text><text x="986" y="717">0.90</text><text x="986" y="788">1.63</text><text x="986" y="1077">1.63</text>
<text x="986" y="1245">1.45</text><text x="986" y="1300">0.54</text><text x="986" y="1381">-1.13</text><text x="986" y="1463">-1.76</text>
<text x="986" y="1557">0.75</text><text x="986" y="1712">0.85</text><text x="986" y="1771">0.88</text><text x="986" y="1812">1.26</text>
<text x="986" y="1855">1.09</text><text x="986" y="1911">1.07</text><text x="986" y="2096">-0.70</text><text x="986" y="2167">1.79</text>
<text x="986" y="2220">0.57</text><text x="986" y="2348">1.11</text><text x="986" y="2457">0.44</text><text x="986" y="2548">0.58</text>
<text x="986" y="2942">0.85</text><text x="986" y="3031">0.52</text><text x="986" y="3081">1.67</text><text x="986" y="3116">-1.58</text>
<text x="986" y="3165">1.15</text><text x="986" y="3496">1.55</text><text x="986" y="3610">1.10</text><text x="986" y="3651">1.21</text>
<text x="986" y="3695">-1.43</text><text x="986" y="3753">1.93</text>
</g>
<g id="nodes">
<g id="n-h0-82" class="n"><ellipse cx="111" cy="29" rx="97.5" ry="24"/><text x="111" y="37">Hidden 0-82</text></g>
<g id="n-h0-86" class="n"><ellipse cx="111" cy="125" rx="97.5" ry="24"/><text x="111" y="133">Hidden 0-86</text></g>
<g id="n-h0-110" class="n"><ellipse cx="111" cy="221" rx="106" ry="24"/><text x="111" y="229">Hidden 0-110</text></g>
<g id="n-in-516" class="n"><ellipse cx="111" cy="316.7" rx="80.5" ry="24"/><text x="111" y="324.7">Input 516</text></g>
<g id="n-in-517" class="n"><ellipse cx="111" cy="412.7" rx="80.5" ry="24"/><text x="111" y="420.7">Input 517</text></g>
<g id="n-in-345" class="n"><ellipse cx="111" cy="538.3" rx="80.5" ry="24"/><text x="111" y="546.3">Input 345</text></g>
<g id="n-in-710" class="n"><ellipse cx="111" cy="1378" rx="80.5" ry="24"/><text x="111" y="1386">Input 710</text></g>
<g id="n-in-711" class="n"><ellipse cx="111" cy="1474.3" rx="80.5" ry="24"/><text x="111" y="1482.3">Input 711</text></g>
<g id="n-in-712" class="n"><ellipse cx="111" cy="1570" rx="80.5" ry="24"/><text x="111" y="1578">Input 712</text></g>
<g id="n-in-714" class="n"><ellipse cx="111" cy="1666" rx="80.5" ry="24"/><text x="111" y="1674">Input 714</text></g>
<g id="n-in-745" class="n"><ellipse cx="111" cy="1762.3" rx="80.5" ry="24"/><text x="111" y="1770.3">Input 745</text></g>
<g id="n-in-519" class="n"><ellipse cx="111" cy="1858.3" rx="80.5" ry="24"/><text x="111" y="1866.3">Input 519</text></g>
<g id="n-in-546" class="n"><ellipse cx="111" cy="1955" rx="80.5" ry="24"/><text x="111" y="1963">Input 546</text></g>
<g id="n-in-547" class="n"><ellipse cx="111" cy="2050" rx="80.5" ry="24"/><text x="111" y="2058">Input 547</text></g>
<g id="n-in-327" class="n"><ellipse cx="111" cy="2176.7" rx="80.5" ry="24"/><text x="111" y="2184.7">Input 327</text></g>
<g id="n-in-326" class="n"><ellipse cx="111" cy="2271.7" rx="80.5" ry="24"/><text x="111" y="2279.7">Input 326</text></g>
<g id="n-in-600" class="n"><ellipse cx="111" cy="3643.3" rx="80.5" ry="24"/><text x="111" y="3651.3">Input 600</text></g>
<g id="n-in-572" class="n"><ellipse cx="111" cy="3739.3" rx="80.5" ry="24"/><text x="111" y="3747.3">Input 572</text></g>
<g id="n-in-573" class="n"><ellipse cx="111" cy="3835.7" rx="80.5" ry="24"/><text x="111" y="3843.7">Input 573</text></g>
<g id="n-h1-43" class="n"><ellipse cx="468" cy="125" rx="97.5" ry="24"/><text x="468" y="133">Hidden 1-43</text></g>
<g id="n-h1-33" class="n"><ellipse cx="468" cy="221" rx="97.5" ry="24"/><text x="468" y="229">Hidden 1-33</text></g>
<g id="n-h0-125" class="n"><ellipse cx="468" cy="398.3" rx="106" ry="24"/><text x="468" y="406.3">Hidden 0-125</text></g>
<g id="n-h0-115" class="n"><ellipse cx="468" cy="538.3" rx="106" ry="24"/><text x="468" y="546.3">Hidden 0-115</text></g>
<g id="n-h0-122" class="n"><ellipse cx="468" cy="669" rx="106" ry="24"/><text x="468" y="677">Hidden 0-122</text></g>
<g id="n-h0-100" class="n"><ellipse cx="468" cy="785" rx="106" ry="24"/><text x="468" y="793">Hidden 0-100</text></g>
<g id="n-h0-16" class="n"><ellipse cx="468" cy="891.7" rx="97.5" ry="24"/><text x="468" y="899.7">Hidden 0-16</text></g>
<g id="n-h0-50" class="n"><ellipse cx="468" cy="1007.7" rx="97.5" ry="24"/><text x="468" y="1015.7">Hidden 0-50</text></g>
<g id="n-h0-63" class="n"><ellipse cx="468" cy="1103.7" rx="97.5" ry="24"/><text x="468" y="1111.7">Hidden 0-63</text></g>
<g id="n-h0-116" class="n"><ellipse cx="468" cy="1229" rx="106" ry="24"/><text x="468" y="1237">Hidden 0-116</text></g>
<g id="n-h0-96" class="n"><ellipse cx="468" cy="1365" rx="97.5" ry="24"/><text x="468" y="1373">Hidden 0-96</text></g>
<g id="n-h0-89" class="n"><ellipse cx="468" cy="1481" rx="97.5" ry="24"/><text x="468" y="1489">Hidden 0-89</text></g>
<g id="n-h0-106" class="n"><ellipse cx="468" cy="1606" rx="106" ry="24"/><text x="468" y="1614">Hidden 0-106</text></g>
<g id="n-h0-126" class="n"><ellipse cx="468" cy="1761" rx="106" ry="24"/><text x="468" y="1769">Hidden 0-126</text></g>
<g id="n-h0-109" class="n"><ellipse cx="468" cy="1915.7" rx="106" ry="24"/><text x="468" y="1923.7">Hidden 0-109</text></g>
<g id="n-h0-111" class="n"><ellipse cx="468" cy="2176.7" rx="106" ry="24"/><text x="468" y="2184.7">Hidden 0-111</text></g>
<g id="n-h0-24" class="n"><ellipse cx="468" cy="2312.7" rx="97.5" ry="24"/><text x="468" y="2320.7">Hidden 0-24</text></g>
<g id="n-h0-56" class="n"><ellipse cx="468" cy="2409" rx="97.5" ry="24"/><text x="468" y="2417">Hidden 0-56</text></g>
<g id="n-h0-59" class="n"><ellipse cx="468" cy="2505" rx="97.5" ry="24"/><text x="468" y="2513">Hidden 0-59</text></g>
<g id="n-h0-35" class="n"><ellipse cx="468" cy="2680" rx="97.5" ry="24"/><text x="468" y="2688">Hidden 0-35</text></g>
<g id="n-h0-68" class="n"><ellipse cx="468" cy="2872.7" rx="97.5" ry="24"/><text x="468" y="2880.7">Hidden 0-68</text></g>
<g id="n-h0-67" class="n"><ellipse cx="468" cy="2970.7" rx="97.5" ry="24"/><text x="468" y="2978.7">Hidden 0-67</text></g>
<g id="n-h0-105" class="n"><ellipse cx="468" cy="3067.7" rx="106" ry="24"/><text x="468" y="3075.7">Hidden 0-105</text></g>
<g id="n-h0-15" class="n"><ellipse cx="468" cy="3164" rx="97.5" ry="24"/><text x="468" y="3172">Hidden 0-15</text></g>
<g id="n-h0-43" class="n"><ellipse cx="468" cy="3259.3" rx="97.5" ry="24"/><text x="468" y="3267.3">Hidden 0-43</text></g>
<g id="n-h0-88" class="n"><ellipse cx="468" cy="3356" rx="97.5" ry="24"/><text x="468" y="3364">Hidden 0-88</text></g>
<g id="n-h0-73" class="n"><ellipse cx="468" cy="3451.7" rx="97.5" ry="24"/><text x="468" y="3459.7">Hidden 0-73</text></g>
<g id="n-h0-74" class="n"><ellipse cx="468" cy="3547.7" rx="97.5" ry="24"/><text x="468" y="3555.7">Hidden 0-74</text></g>
<g id="n-h0-97" class="n"><ellipse cx="468" cy="3644" rx="97.5" ry="24"/><text x="468" y="3652">Hidden 0-97</text></g>
<g id="n-h0-117" class="n"><ellipse cx="468" cy="3739.3" rx="106" ry="24"/><text x="468" y="3747.3">Hidden 0-117</text></g>
<g id="n-h0-29" class="n"><ellipse cx="468" cy="3836" rx="97.5" ry="24"/><text x="468" y="3844">Hidden 0-29</text></g>
<g id="n-l3n0" class="n"><ellipse cx="816" cy="178" rx="51.5" ry="24"/><text x="816" y="186">L3N0</text></g>
<g id="n-h1-49" class="n"><ellipse cx="816" cy="630" rx="97.5" ry="24"/><text x="816" y="638">Hidden 1-49</text></g>
<g id="n-h1-56" class="n"><ellipse cx="816" cy="785" rx="97.5" ry="24"/><text x="816" y="793">Hidden 1-56</text></g>
<g id="n-h1-63" class="n"><ellipse cx="816" cy="1210.7" rx="97.5" ry="24"/><text x="816" y="1218.7">Hidden 1-63</text></g>
<g id="n-h1-35" class="n"><ellipse cx="816" cy="1558.3" rx="97.5" ry="24"/><text x="816" y="1566.3">Hidden 1-35</text></g>
<g id="n-h1-16" class="n"><ellipse cx="816" cy="1654.3" rx="97.5" ry="24"/><text x="816" y="1662.3">Hidden 1-16</text></g>
<g id="n-h1-17" class="n"><ellipse cx="816" cy="1750.7" rx="97.5" ry="24"/><text x="816" y="1758.7">Hidden 1-17</text></g>
<g id="n-h1-22" class="n"><ellipse cx="816" cy="1846.7" rx="97.5" ry="24"/><text x="816" y="1854.7">Hidden 1-22</text></g>
<g id="n-h1-60" class="n"><ellipse cx="816" cy="1942.3" rx="97.5" ry="24"/><text x="816" y="1950.3">Hidden 1-60</text></g>
<g id="n-h1-59" class="n"><ellipse cx="816" cy="2058.3" rx="97.5" ry="24"/><text x="816" y="2066.3">Hidden 1-59</text></g>
<g id="n-h1-24" class="n"><ellipse cx="816" cy="2165" rx="97.5" ry="24"/><text x="816" y="2173">Hidden 1-24</text></g>
<g id="n-h1-50" class="n"><ellipse cx="816" cy="2351.7" rx="97.5" ry="24"/><text x="816" y="2359.7">Hidden 1-50</text></g>
<g id="n-h1-47" class="n"><ellipse cx="816" cy="2863.3" rx="97.5" ry="24"/><text x="816" y="2871.3">Hidden 1-47</text></g>
<g id="n-h1-28" class="n"><ellipse cx="816" cy="2989" rx="97.5" ry="24"/><text x="816" y="2997">Hidden 1-28</text></g>
<g id="n-h1-62" class="n"><ellipse cx="816" cy="3085" rx="97.5" ry="24"/><text x="816" y="3093">Hidden 1-62</text></g>
<g id="n-h1-1" class="n"><ellipse cx="816" cy="3181" rx="89" ry="24"/><text x="816" y="3189">Hidden 1-1</text></g>
<g id="n-h1-18" class="n"><ellipse cx="816" cy="3277.3" rx="97.5" ry="24"/><text x="816" y="3285.3">Hidden 1-18</text></g>
<g id="n-h1-61" class="n"><ellipse cx="816" cy="3499.3" rx="97.5" ry="24"/><text x="816" y="3507.3">Hidden 1-61</text></g>
<g id="n-h1-32" class="n"><ellipse cx="816" cy="3595.7" rx="97.5" ry="24"/><text x="816" y="3603.7">Hidden 1-32</text></g>
<g id="n-h1-40" class="n"><ellipse cx="816" cy="3691.7" rx="97.5" ry="24"/><text x="816" y="3699.7">Hidden 1-40</text></g>
<g id="n-h1-6" class="n"><ellipse cx="816" cy="3787.3" rx="89" ry="24"/><text x="816" y="3795.3">Hidden 1-6</text></g>
<g id="n-h1-30" class="n"><ellipse cx="816" cy="3883.3" rx="97.5" ry="24"/><text x="816" y="3891.3">Hidden 1-30</text></g>
<g id="n-l3n3" class="n"><ellipse cx="1109" cy="707.7" rx="51.5" ry="24"/><text x="1109" y="715.7">L3N3</text></g>
<g id="n-l3n5" class="n"><ellipse cx="1109" cy="1329" rx="51.5" ry="24"/><text x="1109" y="1337">L3N5</text></g>
<g id="n-l3n7" class="n"><ellipse cx="1109" cy="1558.3" rx="51.5" ry="24"/><text x="1109" y="1566.3">L3N7</text></g>
<g id="n-l3n2" class="n"><ellipse cx="1109" cy="1798.3" rx="51.5" ry="24"/><text x="1109" y="1806.3">L3N2</text></g>
<g id="n-l3n8" class="n"><ellipse cx="1109" cy="2351.7" rx="51.5" ry="24"/><text x="1109" y="2359.7">L3N8</text></g>
<g id="n-l3n4" class="n"><ellipse cx="1109" cy="3085" rx="51.5" ry="24"/><text x="1109" y="3093">L3N4</text></g>
<g id="n-l3n1" class="n"><ellipse cx="1109" cy="3499.3" rx="51.5" ry="24"/><text x="1109" y="3507.3">L3N1</text></g>
<g id="n-l3n6" class="n"><ellipse cx="1109" cy="3634.3" rx="51.5" ry="24"/><text x="1109" y="3642.3">L3N6</text></g>
</g>
</svg>
